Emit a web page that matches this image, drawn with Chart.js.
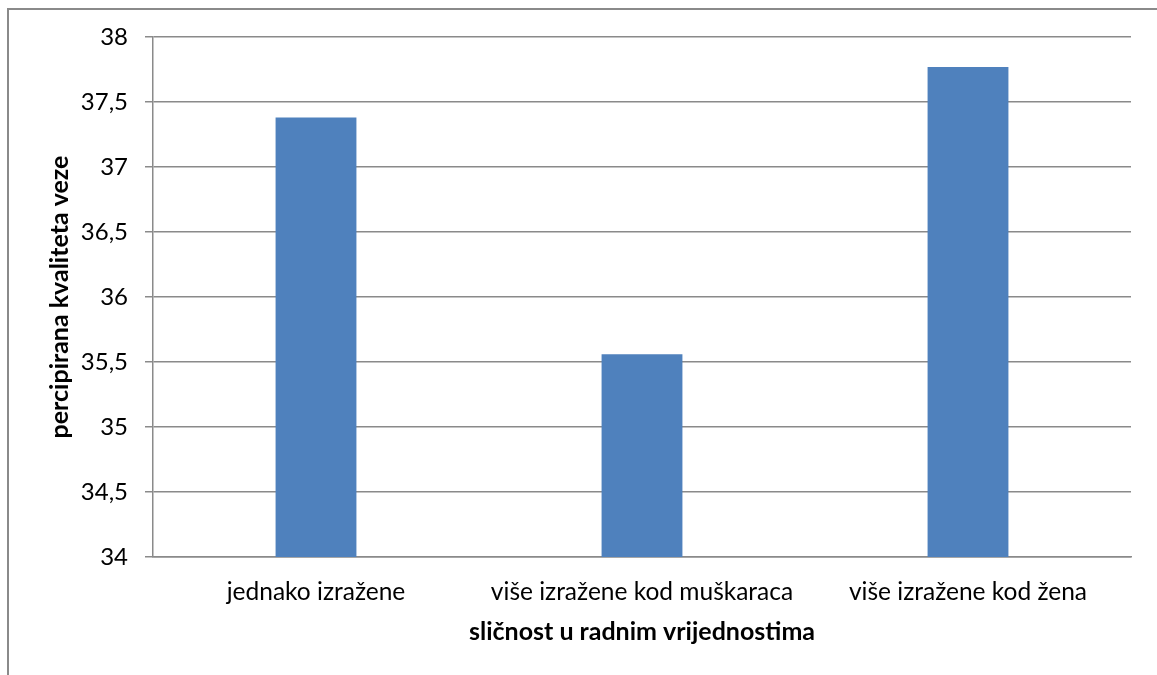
<!DOCTYPE html>
<html lang="hr">
<head>
<meta charset="UTF-8">
<title>Percipirana kvaliteta veze</title>
<style>
    body { margin: 0; background: #fff; }
    #wrap { position: relative; width: 1157px; height: 675px; overflow: hidden; }
    #frame { position: absolute; left: 7px; top: 8px; width: 1200px; height: 700px;
             border-left: 2px solid #8a8a8a; border-top: 2px solid #8a8a8a; }
    #chart { position: absolute; left: 0; top: 0; }
</style>
</head>
<body>
<div id="wrap">
    <div id="frame"></div>
    <canvas id="chart" width="1157" height="675"></canvas>
</div>

<script src="https://cdn.jsdelivr.net/npm/chart.js"></script>
<script>
// podaci
const kategorije = ['jednako izražene', 'više izražene kod muškaraca', 'više izražene kod žena'];
const vrijednosti = [37.38, 35.56, 37.77];
const yMin = 34, yMax = 38, yKorak = 0.5;

const fontFamily = 'Lato, "Open Sans", sans-serif';
const siva = '#8a8a8a';

const ctx = document.getElementById('chart');
window.myChart = new Chart(ctx, {
    type: 'bar',
    data: {
        labels: kategorije,
        datasets: [{
            data: vrijednosti,
            backgroundColor: '#4f81bd',
            borderWidth: 0,
            categoryPercentage: 1,
            barPercentage: 0.248
        }]
    },
    options: {
        responsive: false,
        animation: false,
        layout: { padding: { left: 0, top: 37, right: 26, bottom: 0 } },
        plugins: {
            legend: { display: false },
            tooltip: { enabled: false }
        },
        scales: {
            x: {
                grid: { display: false, drawTicks: false },
                border: { display: true, color: siva, width: 1.5 },
                ticks: { color: '#000', padding: 20, font: { family: fontFamily, size: 24.5 } },
                title: {
                    display: true,
                    text: 'sličnost u radnim vrijednostima',
                    color: '#000',
                    font: { family: fontFamily, size: 25, weight: 'bold' },
                    padding: { top: 0, bottom: 28 }
                },
                afterFit: function(scale) { scale.height = 118; }
            },
            y: {
                min: yMin,
                max: yMax,
                grid: { color: siva, lineWidth: 1.5, tickLength: 8, tickColor: siva },
                border: { display: true, color: siva, width: 1.5 },
                ticks: {
                    stepSize: yKorak,
                    color: '#000',
                    padding: 17,
                    font: { family: fontFamily, size: 24 },
                    callback: function(v) { return String(v).replace('.', ','); }
                },
                title: {
                    display: true,
                    text: 'percipirana kvaliteta veze',
                    color: '#000',
                    font: { family: fontFamily, size: 25, weight: 'bold' },
                    padding: { top: 45, bottom: 0 }
                },
                afterFit: function(scale) { scale.width = 153; }
            }
        }
    }
});
</script>
</body>
</html>
